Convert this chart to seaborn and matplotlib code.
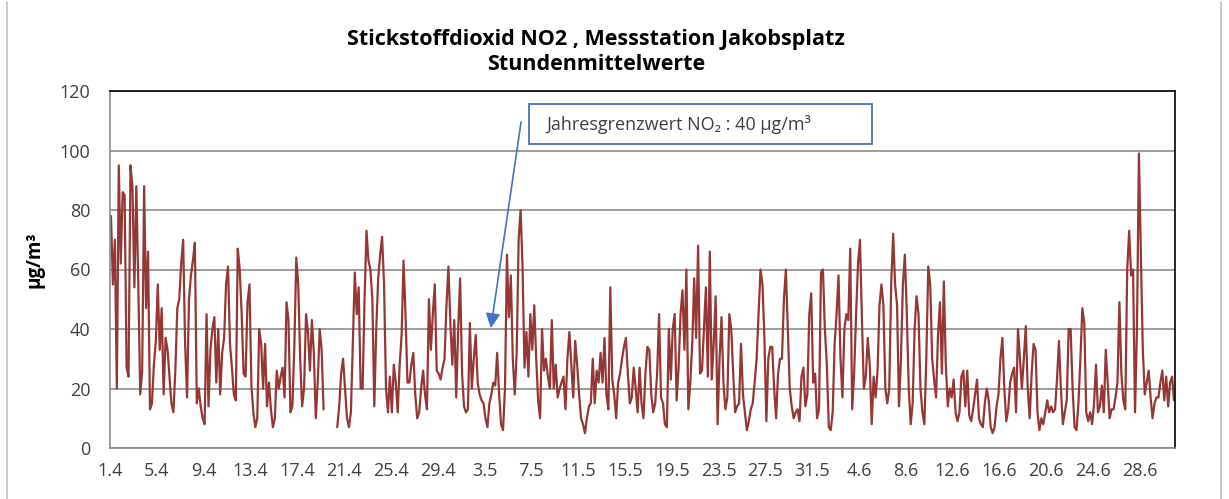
import numpy as np
import pandas as pd
import matplotlib
matplotlib.use('Agg')
import matplotlib.pyplot as plt
from matplotlib.patches import Rectangle
from matplotlib.lines import Line2D
import seaborn as sns

nan = np.nan
april = [78, 55, 70, 20, 95, 62, 86, 85, 27, 24, 95, 88, 54, 88, 55, 18, 26, 88, 47, 66,
         13, 15, 28, 36, 55, 33, 47, 18, 37, 33, 24, 15, 12, 26, 47, 50, 62, 70, 35, 17,
         50, 58, 63, 69, 15, 20, 14, 10, 8, 45, 14, 33, 40, 44, 22, 40, 18, 32, 37, 55,
         61, 35, 27, 18, 16, 67, 60,
         45, 25, 24, 49, 55, 21, 12, 7, 10, 40, 35, 20, 35, 14, 22, 13, 7, 10, 26, 20,
         24, 27, 17, 49, 43, 12, 14, 34, 64, 55, 30, 14, 20, 45, 39, 26, 43, 32, 10, 22,
         40, 33, 13, nan, nan, nan, nan, nan, nan, 7, 14, 25, 30, 20, 10, 7, 12, 35, 59, 45,
         54, 20, 20, 50, 73, 63, 60, 50, 14,
         40, 57, 65, 71, 55, 20, 12, 24, 12, 28, 22, 12, 28, 38, 63, 45, 22, 22, 28, 32,
         18, 10, 12, 20, 26, 18, 13, 50, 33, 45, 55, 26, 25, 23, 27, 30, 48, 61, 42, 28,
         43, 17, 40, 57]
may = [25, 14, 12, 13, 42, 20, 30, 38, 22, 18, 16, 15, 10, 7, 15, 18, 22, 21, 32, 18,
       8, 6, 20, 65, 44,
       58, 30, 18, 32, 70, 80, 61, 27, 39, 24, 45, 33, 48, 30, 16, 10, 40, 26, 30, 24,
       20, 43, 20, 28, 17, 20, 22, 24, 13, 30, 39, 28, 17, 36, 28, 18, 10, 8, 5, 10,
       14, 15, 30, 15, 26, 22, 32, 22, 37, 18, 13, 54, 23, 18, 10, 22, 25, 30, 34, 37,
       25, 15, 17, 27, 20, 12, 27, 15, 10,
       25, 34, 33, 18, 12, 15, 25, 45, 17, 15, 8, 7, 40, 23, 40, 45, 16, 27, 45, 53,
       33, 60, 13, 22, 35, 57, 37, 68, 25, 26, 40, 54, 24, 66, 23, 35, 51, 8, 30, 44,
       22, 13, 17, 45, 40, 25, 12, 14, 15, 35, 18, 12, 6, 9, 13, 15, 22, 30, 45, 60,
       55, 37, 9, 30, 34, 34, 20, 10, 25,
       30, 30, 50, 60, 40, 20, 14, 10, 12, 13, 9, 24, 27, 14, 18, 45, 52, 22, 25, 10,
       13, 59, 60]
june = [40, 28, 7, 6, 12, 35, 45, 58, 30, 17, 40, 45, 43, 67, 13, 25, 45, 62, 70, 43,
        20, 24, 37, 28, 8, 24, 17, 26, 48, 55, 48, 20, 15, 20, 55, 72, 55, 48, 14, 30,
        55, 65, 45, 20, 8, 15,
        40, 51, 45, 20, 12, 8, 30, 61, 55, 30, 23, 17, 38, 49, 25, 56, 28, 14, 20, 17,
        23, 12, 9, 12, 24, 26, 14, 26, 11, 9, 13, 18, 23, 10, 8, 7, 15, 20, 16, 7,
        5, 7, 14, 18, 30, 37, 20, 9, 13, 22, 25, 27, 12, 40, 30, 20, 30, 41, 20, 10,
        25, 35, 33, 12, 6, 10, 8, 12, 16,
        12, 14, 12, 13, 23, 36, 20, 8, 12, 16, 40, 40, 20, 7, 6, 15, 30, 47, 42, 12,
        9, 12, 8, 15, 28, 12, 14, 21, 12, 33, 22, 10, 13, 13, 17, 22, 49, 25, 16, 13,
        60, 73, 58, 60, 12, 40, 99, 65, 33, 18, 22, 26, 17, 10, 15, 17, 17, 22, 26, 16,
        24, 14, 22, 24, 16]

tick_labels = ['1.4', '5.4', '9.4', '13.4', '17.4', '21.4', '25.4', '29.4',
               '3.5', '7.5', '11.5', '15.5', '19.5', '23.5', '27.5', '31.5',
               '4.6', '8.6', '12.6', '16.6', '20.6', '24.6', '28.6']

step = 4          # Stunden je Wert
n_hours = 91 * 24

values = np.array(april + may + june, dtype=float)
hours = np.arange(len(values)) * step + step / 2
# Ausfaelle trennen die Linie in Segmente
segment = np.cumsum(np.isnan(values))
df = pd.DataFrame({'hour': hours, 'no2': values, 'segment': segment}).dropna()

sns.set_style('white')
plt.rcParams['font.family'] = ['Open Sans', 'DejaVu Sans']

W, H = 1229, 499
fig = plt.figure(figsize=(W / 100, H / 100), dpi=100)
ax = fig.add_axes([110 / W, 1 - 448 / H, 1065 / W, 357 / H])

sns.lineplot(data=df, x='hour', y='no2', units='segment', estimator=None,
             color='#953735', lw=1.6, ax=ax, legend=False)

ax.set_xlim(0, n_hours)
ax.set_ylim(0, 120)
ax.set_yticks(range(0, 121, 20))
ax.set_xticks(np.arange(len(tick_labels)) * 96)
ax.set_xticklabels(tick_labels)
ax.set_xlabel('')
ax.set_ylabel('')
ax.yaxis.grid(True, color='#8c8c8c', lw=1.2)
ax.set_axisbelow(True)
ax.tick_params(axis='y', length=0, pad=14, labelsize=13, labelcolor='#404040')
ax.tick_params(axis='x', length=5, width=1, color='#8c8c8c', direction='out',
               pad=5, labelsize=13, labelcolor='#404040')
for side in ['left', 'bottom']:
    ax.spines[side].set_color('#8c8c8c')
    ax.spines[side].set_linewidth(1.2)
for side in ['top', 'right']:
    ax.spines[side].set_color('#000000')
    ax.spines[side].set_linewidth(1.2)

fig.text(35 / W, 1 - 260 / H, 'µg/m³', rotation=90, ha='center', va='center',
         fontsize=13.5, fontweight='bold', color='#000000')
fig.text(596 / W, 1 - 52 / H, 'Stickstoffdioxid NO2 , Messstation Jakobsplatz\nStundenmittelwerte',
         ha='center', va='center', fontsize=15.5, fontweight='bold', color='#000000',
         linespacing=1.3)

# Hinweisbox mit Pfeil
ax.add_patch(Rectangle((0.393, 0.8515), 0.3225, 0.112, transform=ax.transAxes,
                       facecolor='white', edgecolor='#4472C4', lw=1.3, zorder=5))
ax.text(0.41, 0.907, 'Jahresgrenzwert NO₂ : 40 µg/m³', transform=ax.transAxes,
        ha='left', va='center', fontsize=13, color='#404040', zorder=6)
ax.annotate('', xy=(781, 40.3), xytext=(843, 109.6),
            arrowprops=dict(arrowstyle='-|>', color='#4472C4', lw=1.2,
                            mutation_scale=22, shrinkA=0, shrinkB=0), zorder=6)

# Rahmen des Diagrammbereichs
for x0 in [7, 1221]:
    fig.add_artist(Line2D([x0 / W, x0 / W], [0, 1 - 2 / H], color='#bfbfbf', lw=1.2))

fig.savefig('out.png', dpi=100)
